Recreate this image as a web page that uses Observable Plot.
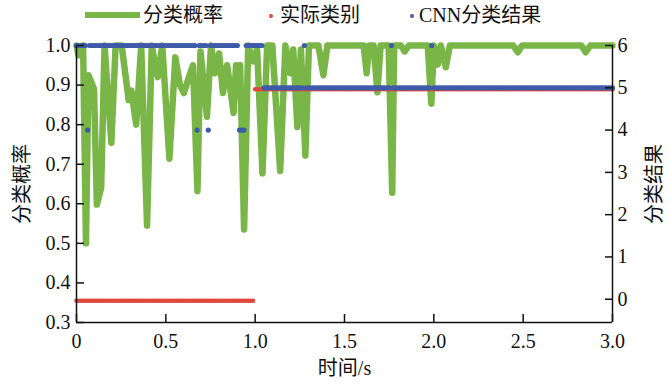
<!DOCTYPE html>
<html><head><meta charset="utf-8">
<script src="https://cdn.jsdelivr.net/npm/d3@7"></script>
<script src="https://cdn.jsdelivr.net/npm/@observablehq/plot@0.6"></script>
<style>
body{margin:0;background:#fff;}
#chart{width:669px;}
.lg{position:absolute;top:0;line-height:30px;font-size:20px;font-family:"Liberation Serif","Noto Sans CJK SC",serif;color:#111;white-space:nowrap;}
</style></head><body>
<div id="chart">
<div id="legend" style="position:relative;width:669px;height:30px;">
 <svg width="669" height="30" style="position:absolute;left:0;top:0">
   <line x1="85" x2="140" y1="15" y2="15" stroke="#79b547" stroke-width="6"/>
   <circle cx="271" cy="16" r="2" fill="#e2473b"/>
   <circle cx="412" cy="16" r="2" fill="#3e5ba9"/>
 </svg>
 <span class="lg" style="left:143px">分类概率</span>
 <span class="lg" style="left:280px">实际类别</span>
 <span class="lg" style="left:419px">CNN分类结果</span>
</div>
<div id="plot"></div>
</div>
<script>
// 分类概率 (green line) vertices: time (s) and probability
const probTime = [0, 0.011, 0.028, 0.037, 0.053, 0.067, 0.098, 0.114, 0.138, 0.157,
  0.195, 0.219, 0.253, 0.292, 0.307, 0.334, 0.362, 0.395, 0.421, 0.455,
  0.480, 0.520, 0.553, 0.579, 0.601, 0.629, 0.652, 0.677, 0.694, 0.730,
  0.753, 0.775, 0.798, 0.820, 0.843, 0.879, 0.893, 0.904, 0.916, 0.938,
  0.961, 0.989, 1.011, 1.041, 1.067, 1.096, 1.140, 1.169, 1.197, 1.213,
  1.236, 1.256, 1.281, 1.301, 1.354, 1.382, 1.404, 1.607, 1.624, 1.638,
  1.663, 1.684, 1.702, 1.747, 1.767, 1.778, 1.815, 1.837, 1.860, 1.966,
  1.986, 2.000, 2.022, 2.039, 2.067, 2.090, 2.444, 2.470, 2.494, 2.826,
  2.850, 2.876, 3.0];
const probValue = [1.0, 0.975, 0.985, 1.0, 0.50, 0.925, 0.89, 0.598, 0.64, 1.0,
  0.754, 1.0, 1.0, 0.862, 0.886, 0.80, 1.0, 0.545, 1.0, 0.92,
  1.0, 0.714, 0.97, 0.90, 0.88, 0.92, 0.95, 0.632, 0.985, 0.82,
  1.0, 0.93, 0.98, 0.88, 0.95, 0.83, 0.95, 0.90, 0.95, 0.535,
  1.0, 0.96, 0.99, 0.677, 1.0, 1.0, 0.683, 1.0, 0.93, 0.99,
  0.794, 0.99, 0.722, 1.0, 1.0, 0.925, 1.0, 1.0, 0.93, 1.0,
  1.0, 0.882, 1.0, 1.0, 0.628, 1.0, 1.0, 0.985, 1.0, 1.0,
  0.853, 1.0, 0.952, 1.0, 0.945, 1.0, 1.0, 0.983, 1.0, 1.0,
  0.983, 1.0, 1.0];

// dot series: sampled every sampleStep seconds, given as runs [class, count]
const sampleStep = 0.0125;
const actualRuns = [[0, 80], [5, 161]];
const cnnRuns = [[6, 5], [4, 1], [6, 48], [4, 1], [6, 4], [4, 1], [6, 13], [4, 3], [6, 8],
  [5, 18], [6, 1], [5, 38], [6, 1], [5, 17], [6, 1], [5, 81]];

const leftTicks = [0.3, 0.4, 0.5, 0.6, 0.7, 0.8, 0.9, 1.0];
const rightTicks = [0, 1, 2, 3, 4, 5, 6];
const xTicks = [0, 0.5, 1, 1.5, 2, 2.5, 3];

const GREEN = "#79b547", RED = "#e2473b", BLUE = "#3e5ba9";
const R_MIN = -0.55, R_MAX = 6;
const toLeft = v => 0.3 + (v - R_MIN) * 0.7 / (R_MAX - R_MIN);
const fromLeft = p => (p - 0.3) * (R_MAX - R_MIN) / 0.7 + R_MIN;

const greenData = probTime.map((t, i) => ({t, p: probValue[i]}));
function expand(runs) {
  const out = []; let i = 0;
  for (const [c, n] of runs) for (let k = 0; k < n; k++) { out.push({t: i * sampleStep, c}); i++; }
  return out;
}
const actualData = expand(actualRuns);
const cnnData = expand(cnnRuns);

const font = `"Liberation Serif","Noto Sans CJK SC",serif`;
const axisStyle = {stroke: "#111", strokeWidth: 1.5};
const chart = Plot.plot({
  width: 669, height: 355,
  marginLeft: 76, marginRight: 57, marginTop: 15, marginBottom: 63,
  style: {fontFamily: font, fontSize: "20px", color: "#111", background: "white"},
  x: {domain: [0, 3]},
  y: {domain: [0.3, 1.0]},
  marks: [
    Plot.line(greenData, {x: "t", y: "p", stroke: GREEN, strokeWidth: 6.5, strokeLinejoin: "round", strokeLinecap: "round"}),
    Plot.dot(actualData, {x: "t", y: d => toLeft(d.c), r: 2.3, fill: RED, dy: 1.5}),
    Plot.dot(cnnData, {x: "t", y: d => toLeft(d.c), r: 2.6, fill: BLUE}),
    Plot.ruleX([0], axisStyle),
    Plot.ruleX([3], axisStyle),
    Plot.ruleY([0.3], axisStyle),
    Plot.axisY(leftTicks, {anchor: "left", tickSize: -8, tickPadding: 14, strokeWidth: 1.5, fontFamily: font, fontSize: 20, tickFormat: d => d.toFixed(1), label: null}),
    Plot.axisY(rightTicks.map(toLeft), {anchor: "right", tickSize: -8, tickPadding: 13, strokeWidth: 1.5, fontFamily: font, fontSize: 20, tickFormat: d => String(Math.round(fromLeft(d))), label: null}),
    Plot.axisX(xTicks, {anchor: "bottom", tickSize: -8, tickPadding: 19, strokeWidth: 1.5, fontFamily: font, fontSize: 20, tickFormat: d => d === 0 ? "0" : d.toFixed(1), label: null}),
    Plot.text(["分类概率"], {frameAnchor: "left", dx: -54, rotate: -90, textAnchor: "middle", lineAnchor: "middle", fontFamily: font, fontSize: 20}),
    Plot.text(["分类结果"], {frameAnchor: "right", dx: 42, rotate: -90, textAnchor: "middle", lineAnchor: "middle", fontFamily: font, fontSize: 20}),
    Plot.text(["时间/s"], {frameAnchor: "bottom", dy: 46, textAnchor: "middle", lineAnchor: "middle", fontFamily: font, fontSize: 20})
  ]
});
document.getElementById("plot").appendChild(chart);
</script>
</body></html>
